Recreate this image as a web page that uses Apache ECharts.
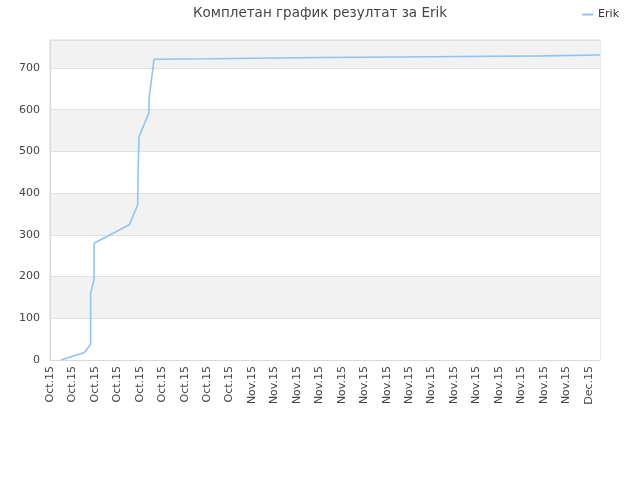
<!DOCTYPE html>
<html><head><meta charset="utf-8">
<script src="https://cdn.jsdelivr.net/npm/echarts@6/dist/echarts.min.js"></script>
<style>html,body{margin:0;padding:0;background:#fff}#c{width:640px;height:480px}</style>
</head><body><div id="c"></div>
<script>
// days since Oct 14, 2015
const days   = [0.98, 3.06, 3.62, 3.62, 3.92, 3.92, 7.07, 7.81, 7.85, 7.93, 8.79, 8.85, 9.27, 14.26, 14.26, 24.15, 24.15, 34.05, 34.05, 43.94, 43.94, 49.0];
const values = [0,    18,   38,   160,  192,  280,  324,  372,  450,  535,  591,  631,  721,  722,   725,   725,   727,   727,   729,   729,   731,   731];
const seriesName = 'Erik';
const title = 'Комплетан график резултат за Erik';
const monthNames = ['Jan','Feb','Mar','Apr','May','Jun','Jul','Aug','Sep','Oct','Nov','Dec'];
const startDate = Date.UTC(2015, 9, 14);

const chart = echarts.init(document.getElementById('c'));
chart.setOption({
  animation: false,
  title: { text: title, left: 'center', top: 1, textStyle: { fontSize: 13.5, fontWeight: 'normal', color: '#444', fontFamily: 'DejaVu Sans' } },
  legend: { right: 16, top: 4, itemWidth: 11, itemHeight: 2, itemGap: 6, icon: 'rect', textStyle: { fontSize: 11, color: '#333', fontFamily: 'DejaVu Sans' }, data: [seriesName] },
  grid: { left: 50, right: 40, top: 40, bottom: 120, show: true, borderColor: '#d8d8d8', borderWidth: 1 },
  xAxis: {
    type: 'value', min: 0, max: 49, interval: 2,
    axisLine: { show: true, lineStyle: { color: '#d8d8d8' } },
    axisTick: { show: false },
    splitLine: { show: false },
    axisLabel: {
      rotate: 90, fontSize: 11, color: '#444', fontFamily: 'DejaVu Sans', showMaxLabel: false, margin: 6,
      formatter: v => { const d = new Date(startDate + v * 86400000); return monthNames[d.getUTCMonth()] + '.' + String(d.getUTCFullYear()).slice(2); }
    }
  },
  yAxis: {
    type: 'value', min: 0, max: 767, interval: 100,
    axisLine: { show: true, lineStyle: { color: '#d8d8d8' } },
    axisTick: { show: false },
    axisLabel: { fontSize: 11, color: '#444', fontFamily: 'DejaVu Sans', showMaxLabel: false, margin: 10 },
    splitLine: { show: true, lineStyle: { color: '#e0e0e0' } },
    splitArea: { show: true, areaStyle: { color: ['#ffffff', '#f2f2f2'] } }
  },
  series: [{
    name: seriesName, type: 'line', showSymbol: false, symbol: 'none',
    lineStyle: { color: '#90c3f2', width: 1.6 }, itemStyle: { color: '#90c3f2' },
    data: days.map((d, i) => [d, values[i]])
  }]
});
</script></body></html>
